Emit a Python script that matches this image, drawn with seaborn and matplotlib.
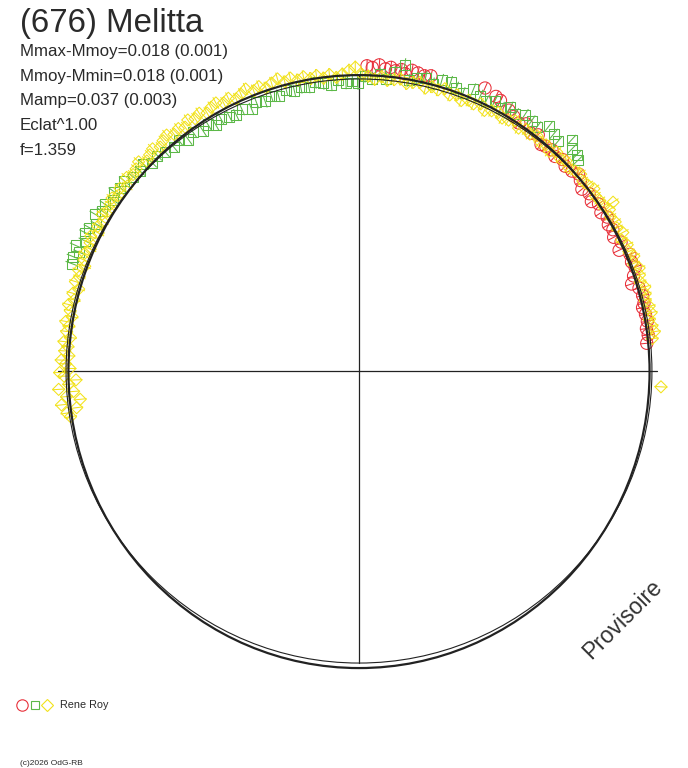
import numpy as np
import pandas as pd
import matplotlib
matplotlib.use("Agg")
import matplotlib.pyplot as plt
from matplotlib.collections import LineCollection
from matplotlib.patches import Ellipse
import seaborn as sns

# ---------------- data (angle in degrees, radius relative to the unit circle) ----------------
title = "(676) Melitta"
info_lines = ["Mmax-Mmoy=0.018 (0.001)", "Mmoy-Mmin=0.018 (0.001)",
              "Mamp=0.037 (0.003)", "Eclat^1.00", "f=1.359"]
observer = "Rene Roy"
credit = "(c)2026 OdG-RB"
stamp = "Provisoire"

red_angle = [88.5, 87.5, 86.2, 85, 84, 83.1, 82, 81.2, 80, 78.8,
             77.5, 76.3, 66, 63.5, 62.4, 60.1, 58.7, 57.2, 55.9, 54.1,
             52.8, 51.2, 50.3, 48.9, 47.6, 46.1, 44.8, 43.2, 41.9, 40.7,
             39.2, 37.6, 36.1, 34.9, 33.2, 31.8, 30.4, 29.1, 27.7, 26.2,
             24.9, 23.3, 21.8, 20.6, 19.1, 17.7, 16.5, 14.9, 13.4, 12.6,
             11.2, 9.8, 8.4, 7.1, 5.5]
red_r = [1.035, 1.03, 1.04, 1.028, 1.035, 1.025, 1.032, 1.02, 1.035, 1.03,
         1.025, 1.03, 1.05, 1.04, 1.035, 1.02, 1.01, 1.0, 1.012, 0.995,
         1.005, 0.985, 0.99, 0.995, 0.985, 0.995, 0.985, 0.99, 1.0, 0.99,
         0.975, 0.985, 0.975, 0.99, 0.98, 0.99, 0.98, 0.985, 0.975, 0.99,
         0.972, 1.0, 0.995, 1.0, 0.985, 0.97, 0.99, 0.995, 0.993, 0.985,
         0.99, 0.992, 0.985, 0.988, 0.98]

green_angle = [159.5, 158.2, 157, 156.1, 154.6, 153.2, 152, 150.8, 149.3, 148.1,
               146.7, 145.2, 143.8, 142.5, 141, 139.3, 137.6, 136.2, 134.8, 133.1,
               131.5, 129.6, 128, 126.4, 124.8, 123, 121.5, 120.2, 118.7, 117,
               115.6, 114.1, 112.3, 110.9, 109.2, 107.7, 106.3, 104.5, 103, 101.6,
               100, 98.6, 97.1, 95.5, 94.2, 92.6, 91.3, 90.2, 88.8, 87.4,
               86, 84.7, 83.2, 81.5, 80.3, 78.8, 77.2, 75.6, 74.1, 72.4,
               71, 69.5, 67.9, 66.2, 64.8, 63.3, 61.6, 60.2, 58.7, 57.1,
               55.4, 53.9, 52.2, 50.6, 49.1, 47.4, 46.2, 44.8, 43.9]
green_r = [1.04, 1.045, 1.03, 1.05, 1.03, 1.04, 1.035, 1.02, 1.04, 1.025,
           1.03, 1.015, 1.03, 1.02, 1.025, 1.01, 1.005, 1.015, 0.995, 1.0,
           0.99, 0.985, 0.992, 0.975, 0.985, 0.97, 0.98, 0.965, 0.975, 0.968,
           0.962, 0.972, 0.96, 0.975, 0.968, 0.98, 0.972, 0.985, 0.975, 0.982,
           0.978, 0.99, 0.983, 0.975, 0.99, 0.978, 0.985, 0.975, 1.0, 0.992,
           1.01, 0.995, 1.02, 1.05, 1.0, 1.012, 1.02, 1.005, 1.025, 1.027,
           1.015, 1.005, 1.03, 1.02, 1.01, 1.025, 1.015, 1.03, 1.02, 1.035,
           1.03, 1.025, 1.05, 1.04, 1.03, 1.065, 1.045, 1.04, 1.03]

yellow_angle = [189, 188.2, 187.4, 186.5, 185.8, 185, 184.1, 183.5, 182.6, 181.8,
                181, 180.3, 179.5, 178.6, 177.9, 177, 176.1, 175.2, 174.3, 173.4,
                172.3, 171.2, 170.4, 169.3, 168.2, 167.1, 166, 164.8, 163.7, 162.5,
                161.4, 160.2, 159.1, 158, 156.8, 155.6, 154.5, 153.3, 152.1, 151,
                149.7, 148.6, 147.4, 146.2, 145, 143.9, 142.6, 141.4, 140.2, 139,
                137.8, 136.5, 135.3, 134.1, 132.9, 131.6, 130.4, 129.2, 128, 126.7,
                125.5, 124.3, 123, 121.8, 120.5, 119.3, 118.1, 116.8, 115.6, 114.3,
                113.1, 111.9, 110.6, 109.4, 108.2, 106.9, 105.6, 104.4, 103.2, 101.9,
                100.7, 99.4, 98.2, 96.9, 95.7, 94.4, 93.2, 91.9, 90.7, 89.4,
                88.2, 86.9, 85.6, 84.4, 83.1, 81.9, 80.6, 79.4, 78.1, 76.8,
                75.6, 74.3, 73.1, 71.8, 70.5, 69.3, 68, 66.8, 65.5, 64.3,
                63, 61.7, 60.5, 59.2, 58, 56.7, 55.4, 54.2, 52.9, 51.7,
                50.4, 49.1, 47.9, 46.6, 45.4, 44.1, 42.8, 41.6, 40.3, 39.1,
                37.8, 36.5, 35.3, 34, 33.6, 32.8, 31.5, 30.2, 29, 27.7,
                26.5, 25.2, 23.9, 22.7, 21.4, 20.2, 18.9, 17.6, 16.4, 15.1,
                13.9, 12.6, 11.3, 10.1, 8.8, 7.6, 6.3, -3]
yellow_r = [0.99, 1.0, 0.965, 1.015, 0.95, 0.995, 0.97, 1.02, 0.985, 0.96,
            1.0, 1.015, 0.98, 0.995, 1.01, 0.985, 1.0, 0.99, 1.005, 0.985,
            1.0, 0.995, 1.008, 0.99, 1.0, 1.01, 0.995, 1.005, 0.99, 1.008,
            1.0, 1.01, 0.995, 1.005, 1.012, 1.0, 1.01, 1.018, 1.0, 1.012,
            1.005, 1.02, 1.008, 1.015, 1.022, 1.01, 1.02, 1.005, 1.025, 1.015,
            1.02, 1.03, 1.012, 1.02, 1.028, 1.015, 1.025, 1.032, 1.018, 1.025,
            1.015, 1.03, 1.02, 1.028, 1.015, 1.025, 1.03, 1.018, 1.025, 1.012,
            1.02, 1.03, 1.015, 1.022, 1.01, 1.02, 1.028, 1.012, 1.02, 1.008,
            1.015, 1.005, 1.012, 1.0, 1.01, 0.998, 1.008, 1.02, 1.03, 1.005,
            1.0, 0.99, 1.0, 0.99, 0.995, 1.0, 0.988, 0.995, 1.0, 0.985,
            0.995, 0.99, 1.0, 0.985, 0.993, 0.98, 0.99, 0.985, 0.995, 0.98,
            0.99, 0.995, 0.985, 0.99, 1.0, 0.985, 0.995, 0.99, 1.0, 0.99,
            0.995, 0.985, 1.0, 0.992, 1.0, 0.99, 0.998, 1.005, 0.995, 1.0,
            1.008, 0.997, 1.0, 1.0, 1.034, 1.01, 1.0, 1.005, 1.0, 1.01,
            0.995, 1.005, 1.0, 1.01, 1.0, 1.012, 1.005, 1.0, 1.01, 1.005,
            1.0, 1.008, 1.01, 1.0, 1.005, 1.01, 1.0, 1.025]

# model curve (half-width, half-height)
model_half_w = [0.985, 0.993]
model_half_h = [1.005, 0.99]

# ---------------- figure ----------------
sns.set_style("white")
plt.rcParams["font.family"] = ["Liberation Sans", "DejaVu Sans"]

W, H = 688, 768
fig = plt.figure(figsize=(W / 100, H / 100), dpi=100)
ax = fig.add_axes([0, 0, 1, 1])
cx, cy, R = 359, 371, 295.0
ax.set_xlim(-cx / R, (W - cx) / R)
ax.set_ylim(-(H - cy) / R, cy / R)
ax.set_axis_off()

dark = "#222222"
# crosshair
ax.plot([-1.02, 1.01], [0, 0], color=dark, lw=0.9, zorder=1)
ax.plot([0, 0], [-0.99, 1.003], color=dark, lw=0.9, zorder=1)


def polar_df(angle, r):
    a = np.deg2rad(np.asarray(angle, float))
    r = np.asarray(r, float)
    return pd.DataFrame({"x": r * np.cos(a), "y": r * np.sin(a), "a": a, "r": r})


series = [
    (red_angle, red_r, "o", 78, "#e8303a", 0.022),
    (green_angle, green_r, "s", 52, "#5cb848", 0.022),
    (yellow_angle, yellow_r, "D", 38, "#f2e21a", 0.022),
]
for i, (ang, rr, mk, size, col, err) in enumerate(series):
    df = polar_df(ang, rr)
    segs = [[((r - err) * np.cos(a), (r - err) * np.sin(a)),
             ((r + err) * np.cos(a), (r + err) * np.sin(a))] for a, r in zip(df["a"], df["r"])]
    ax.add_collection(LineCollection(segs, colors=col, linewidths=0.75, zorder=2 + i))
    sns.scatterplot(data=df, x="x", y="y", marker=mk, s=size, color=col,
                    facecolors="none", edgecolor=col, linewidth=0.75, ax=ax,
                    legend=False, zorder=2 + i)

# model curves
ax.add_patch(Ellipse((0, -0.002), 2 * model_half_w[0], 2 * model_half_h[0], fill=False,
                     ec=dark, lw=1.6, zorder=6))
ax.add_patch(Ellipse((0, 0.0), 2 * model_half_w[1], 2 * model_half_h[1], fill=False,
                     ec=dark, lw=0.8, zorder=6))

# texts
txt = "#2a2a2a"
fig.text(20 / W, 1 - 32 / H, title, fontsize=23.8, color=txt, va="baseline", ha="left")
for k, line in enumerate(info_lines):
    fig.text(20 / W, 1 - (56 + 24.75 * k) / H, line, fontsize=12.2, color=txt,
             va="baseline", ha="left")
fig.text(623 / W, 1 - 619 / H, stamp, fontsize=16.5, color="#333333", rotation=45,
         ha="center", va="center", rotation_mode="anchor")

# legend
for xp, mk, ms, col in [(22, "o", 8.2, "#e8303a"), (35, "s", 6.0, "#5cb848"), (47, "D", 6.0, "#f2e21a")]:
    ax.plot([xp / W], [1 - 705 / H], marker=mk, ms=ms, mfc="none", mec=col, mew=0.8,
            transform=fig.transFigure, clip_on=False, ls="none")
fig.text(60 / W, 1 - 708.5 / H, observer, fontsize=7.8, color=txt, va="baseline", ha="left")
fig.text(20 / W, 1 - 765 / H, credit, fontsize=6, color=txt, va="baseline", ha="left")

fig.savefig("out.png", dpi=100, facecolor="white")
